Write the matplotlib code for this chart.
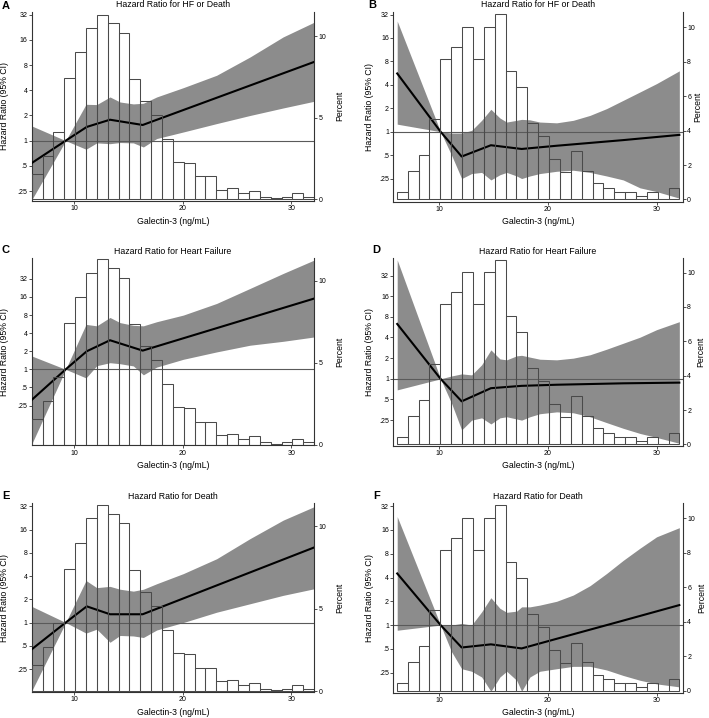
import numpy as np
import matplotlib
matplotlib.use("Agg")
import matplotlib.pyplot as plt

plt.rcParams['font.family'] = ['Liberation Sans', 'DejaVu Sans']

W, H = 709, 718

# histogram of galectin-3 (percent of patients per 1 ng/mL bin)
bin_start = 6.1
bin_width = 1.0
pct_left = [1.58, 2.67, 4.15, 7.43, 9.0, 10.48, 11.3, 10.78, 10.18, 7.35, 6.02, 5.19, 3.72,
            2.29, 2.23, 1.41, 1.41, 0.59, 0.67, 0.37, 0.5, 0.14, 0.07, 0.14, 0.37, 0.15]
pct_right = [0.45, 1.64, 2.57, 4.68, 8.19, 8.87, 10.04, 8.19, 10.04, 10.76, 7.47, 6.55, 4.44,
             3.70, 2.34, 1.62, 2.79, 1.64, 0.94, 0.68, 0.45, 0.45, 0.21, 0.45, 0.0, 0.68]

# left column (A, C, E): spline hazard ratio and 95% CI
left_x = [6.1, 9.23, 11.1, 12.09, 13.31, 14.23, 15.46, 16.38, 17.61, 20.06, 23.13, 26.2, 29.26, 32.12]
left_knots = [6.1, 9.23, 11.17, 13.31, 16.32, 32.12]
a_upper = [1.5, 1.0, 2.72, 2.7, 3.33, 2.9, 2.75, 2.8, 3.33, 4.3, 6.05, 10.0, 17.4, 26.1]
a_lower = [0.196, 1.0, 0.79, 0.94, 0.92, 0.95, 0.94, 0.84, 1.06, 1.27, 1.6, 2.0, 2.46, 2.96]
a_hr = [0.54, 1.0, 1.46, 1.78, 1.54, 8.75]
c_upper = [1.67, 1.0, 5.6, 5.3, 7.3, 6.0, 5.4, 5.3, 6.2, 8.0, 12.5, 22.2, 39.5, 66]
c_lower = [0.057, 1.0, 0.72, 1.15, 1.29, 1.24, 1.14, 0.81, 1.09, 1.47, 1.95, 2.52, 2.93, 3.46]
c_hr = [0.31, 1.0, 2.0, 3.05, 2.05, 15.1]
e_upper = [1.62, 1.0, 3.5, 2.83, 2.94, 2.7, 2.55, 2.7, 3.18, 4.3, 6.7, 12.2, 21.2, 31.7]
e_lower = [0.13, 1.0, 0.73, 0.82, 0.555, 0.68, 0.67, 0.64, 0.8, 1.0, 1.36, 1.75, 2.25, 2.74]
e_hr = [0.45, 1.0, 1.62, 1.28, 1.28, 9.4]

# right column (B, D, F)
right_x = [6.13, 10.12, 11.13, 12.06, 12.98, 13.9, 14.75, 15.58, 16.2, 17.12, 17.58, 18.34,
           19.26, 20.8, 22.33, 23.87, 25.4, 26.93, 28.47, 30.0, 32.09]
right_knots = [6.13, 10.12, 12.06, 14.75, 17.58, 20.8, 26.93, 32.09]
b_upper = [26.4, 1.0, 0.96, 0.96, 1.04, 1.4, 1.94, 1.5, 1.33, 1.4, 1.44, 1.42, 1.33, 1.3,
           1.4, 1.62, 1.98, 2.53, 3.24, 4.15, 6.05]
b_lower = [1.25, 1.0, 0.5, 0.25, 0.29, 0.3, 0.24, 0.28, 0.3, 0.27, 0.25, 0.27, 0.29, 0.31,
           0.32, 0.3, 0.27, 0.24, 0.19, 0.17, 0.14]
b_hr = [5.6, 1.0, 0.48, 0.67, 0.6, 0.66, 0.78, 0.91]
d_upper = [54, 1.0, 1.1, 1.18, 1.14, 1.6, 2.64, 1.95, 1.89, 2.16, 2.2, 2.07, 1.93, 1.89,
           2.0, 2.24, 2.7, 3.3, 4.04, 5.2, 6.8]
d_lower = [0.69, 1.0, 0.44, 0.18, 0.25, 0.27, 0.22, 0.27, 0.28, 0.26, 0.25, 0.28, 0.31, 0.33,
           0.32, 0.28, 0.23, 0.19, 0.16, 0.14, 0.115]
d_hr = [6.3, 1.0, 0.47, 0.73, 0.79, 0.82, 0.86, 0.88]
f_upper = [23.6, 1.0, 1.0, 1.05, 1.0, 1.47, 2.22, 1.63, 1.45, 1.5, 1.7, 1.7, 1.79, 2.0,
           2.4, 3.15, 4.5, 6.6, 9.4, 13.1, 17.1]
f_lower = [0.86, 1.0, 0.46, 0.28, 0.26, 0.22, 0.145, 0.22, 0.26, 0.2, 0.145, 0.22, 0.26, 0.28,
           0.3, 0.3, 0.27, 0.23, 0.2, 0.18, 0.165]
f_hr = [4.5, 1.0, 0.52, 0.57, 0.506, 0.67, 1.14, 1.79]

hr_ticks = [0.25, 0.5, 1, 2, 4, 8, 16, 32]
hr_labels = ['.25', '.5', '1', '2', '4', '8', '16', '32']
x_ticks = [10, 20, 30]

titles = ['Hazard Ratio for HF or Death', 'Hazard Ratio for HF or Death',
          'Hazard Ratio for Heart Failure', 'Hazard Ratio for Heart Failure',
          'Hazard Ratio for Death', 'Hazard Ratio for Death']

BAND = '#8c8c8c'
EDGE = '#4a4a4a'
SPINE = '#333333'

fig = plt.figure(figsize=(W / 100, H / 100), dpi=100)


def px_rect(l, t, r, b):
    return [l / W, 1 - b / H, (r - l) / W, (b - t) / H]


def panel(box, letter, title, xlim, bx, up, lo, knots, hr, pct, hr_lim, pct_lim, pct_ticks,
          letter_xy, ylab_x, pct_x, xlab_y):
    l, t, r, b = box
    ax = fig.add_axes(px_rect(l, t, r, b))
    ax2 = ax.twinx()
    ax.set_yscale('log', base=2)
    ax.fill_between(bx, lo, up, color=BAND, lw=0, zorder=1)
    ax.axhline(1, color='#5a5a5a', lw=0.8, zorder=2)
    ax.plot(knots, hr, color='black', lw=1.5, zorder=3)
    ax.set_xlim(*xlim)
    ax.set_ylim(*hr_lim)
    ax.set_yticks(hr_ticks)
    ax.set_yticklabels(hr_labels)
    ax.minorticks_off()
    ax.set_xticks(x_ticks)

    edges = bin_start + bin_width * np.arange(len(pct))
    ax2.bar(edges, pct, width=bin_width, align='edge', fill=False,
            edgecolor=EDGE, lw=0.75)
    ax2.set_ylim(*pct_lim)
    ax2.set_yticks(pct_ticks)
    ax2.set_xlim(*xlim)

    for a in (ax, ax2):
        a.spines['top'].set_visible(False)
        for s in a.spines.values():
            s.set_color(SPINE)
            s.set_linewidth(0.8)
        a.tick_params(labelsize=5, length=2, width=0.6, pad=1.2, color=SPINE)
    ax2.spines['left'].set_visible(False)
    ax2.spines['bottom'].set_visible(False)
    ax.spines['right'].set_visible(False)

    fig.text((l + r) / 2 / W, 1 - (t - 7) / H, title, ha='center', va='center', fontsize=6.3)
    fig.text(letter_xy[0] / W, 1 - letter_xy[1] / H, letter, ha='left', va='center',
             fontsize=8, fontweight='bold')
    fig.text(ylab_x / W, 1 - (t + b) / 2 / H, 'Hazard Ratio (95% CI)', rotation=90,
             ha='center', va='center', fontsize=6.3)
    fig.text(pct_x / W, 1 - (t + b) / 2 / H, 'Percent', rotation=90,
             ha='center', va='center', fontsize=6.3)
    fig.text((l + r) / 2 / W, 1 - xlab_y / H, 'Galectin-3 (ng/mL)', ha='center',
             va='center', fontsize=6.3)


left_xlim = (6.1, 32.12)
right_xlim = (5.77, 32.4)

panel((31.7, 11.7, 314.3, 201), 'A', titles[0], left_xlim, left_x, a_upper, a_lower,
      left_knots, a_hr, pct_left, (0.19, 34.8), (-0.1, 11.5), [0, 5, 10],
      (2, 6), 5, 340, 221.5)
panel((393.3, 11.7, 682.7, 202), 'B', titles[1], right_xlim, right_x, b_upper, b_lower,
      right_knots, b_hr, pct_right, (0.125, 34.8), (-0.15, 10.91), [0, 2, 4, 6, 8, 10],
      (368, 5), 370, 698, 221.5)
panel((31.7, 258.3, 314.3, 445.5), 'C', titles[2], left_xlim, left_x, c_upper, c_lower,
      left_knots, c_hr, pct_left, (0.054, 70.5), (-0.05, 11.36), [0, 5, 10],
      (2, 250), 5, 340, 465.5)
panel((393.3, 258.3, 682.7, 446), 'D', titles[3], right_xlim, right_x, d_upper, d_lower,
      right_knots, d_hr, pct_right, (0.105, 57), (-0.09, 10.83), [0, 2, 4, 6, 8, 10],
      (372, 250), 370, 701, 466)
panel((31.7, 503.3, 314.3, 692), 'E', titles[4], left_xlim, left_x, e_upper, e_lower,
      left_knots, e_hr, pct_left, (0.126, 35), (-0.06, 11.4), [0, 5, 10],
      (2, 496), 5, 340, 712.5)
panel((393.3, 503.3, 682.7, 693), 'F', titles[5], right_xlim, right_x, f_upper, f_lower,
      right_knots, f_hr, pct_right, (0.138, 34.8), (-0.13, 10.87), [0, 2, 4, 6, 8, 10],
      (373, 496), 370, 702, 712.5)

fig.savefig('out.png', dpi=100)
